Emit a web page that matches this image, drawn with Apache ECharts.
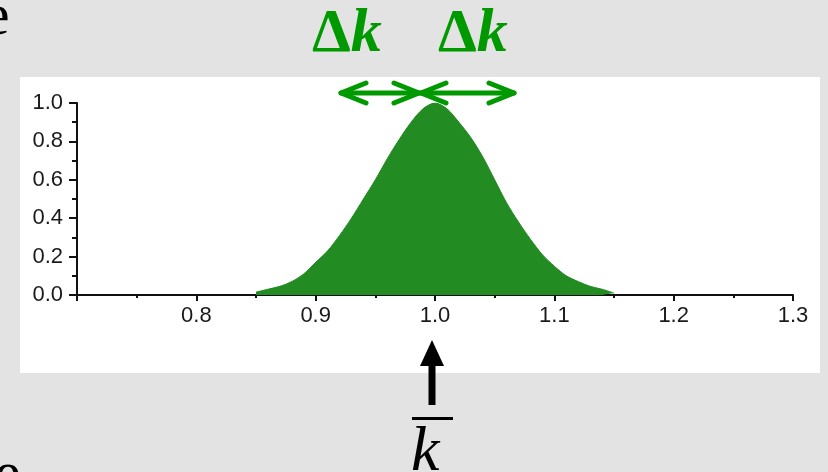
<!DOCTYPE html>
<html>
<head>
<meta charset="utf-8">
<script src="https://cdn.jsdelivr.net/npm/echarts@6/dist/echarts.min.js"></script>
<style>
  html, body { margin: 0; padding: 0; background: #e3e3e3; }
  #chart { width: 828px; height: 472px; }
</style>
</head>
<body>
<div id="chart"></div>
<script>
// k values (x) and normalised distribution height (y)
const kValues = [0.85, 0.86, 0.87, 0.88, 0.89, 0.90, 0.91, 0.92, 0.93, 0.94, 0.95,
  0.96, 0.97, 0.98, 0.99, 1.00, 1.01, 1.02, 1.03, 1.04, 1.05, 1.06, 1.07, 1.08,
  1.09, 1.10, 1.11, 1.12, 1.13, 1.14, 1.15]
const density = [0.015, 0.03, 0.045, 0.07, 0.11, 0.17, 0.23, 0.31, 0.40, 0.50, 0.60,
  0.71, 0.81, 0.90, 0.97, 1.00, 0.97, 0.90, 0.82, 0.72, 0.60, 0.48, 0.38, 0.29,
  0.21, 0.15, 0.10, 0.07, 0.045, 0.03, 0.01]
const xTicks = [0.7, 1.3, 0.1]   // min, max, step
const yTicks = [0, 1, 0.2]

const green = '#009a00'
const fill = '#228b22'
const labelFont = { color: '#1a1a1a', fontSize: 22, fontFamily: 'Liberation Sans' }

const chart = echarts.init(document.getElementById('chart'))

function chevron(x, y, dir) {
  return {
    type: 'polyline',
    shape: { points: [[x - dir * 25, y - 10], [x, y], [x - dir * 25, y + 10]] },
    style: { stroke: green, lineWidth: 5, lineCap: 'round', lineJoin: 'round', fill: null },
    z: 50
  }
}

chart.setOption({
  backgroundColor: 'transparent',
  animation: false,
  grid: { left: 77, right: 35, top: 103, bottom: 177 },
  xAxis: {
    type: 'value',
    min: xTicks[0], max: xTicks[1], interval: xTicks[2],
    axisLine: { onZero: false, lineStyle: { color: '#111', width: 2 } },
    axisTick: { length: 6, lineStyle: { color: '#111', width: 2 } },
    minorTick: { show: true, splitNumber: 2, length: 3, lineStyle: { color: '#111', width: 2 } },
    splitLine: { show: false },
    axisLabel: Object.assign({ margin: 10, showMinLabel: false,
      formatter: v => v.toFixed(1) }, labelFont)
  },
  yAxis: {
    type: 'value',
    min: yTicks[0], max: yTicks[1], interval: yTicks[2],
    axisLine: { show: true, lineStyle: { color: '#111', width: 2 } },
    axisTick: { show: true, length: 8, lineStyle: { color: '#111', width: 2 } },
    minorTick: { show: true, splitNumber: 2, length: 5, lineStyle: { color: '#111', width: 2 } },
    splitLine: { show: false },
    axisLabel: Object.assign({ margin: 14, formatter: v => v.toFixed(1) }, labelFont)
  },
  series: [{
    type: 'line',
    data: kValues.map((k, i) => [k, density[i]]),
    smooth: 0.3,
    symbol: 'none',
    lineStyle: { color: fill, width: 1 },
    areaStyle: { color: fill, opacity: 1 },
    z: 1
  }],
  graphic: [
    // white panel behind the plot
    { type: 'rect', shape: { x: 20, y: 77, width: 800, height: 296 },
      style: { fill: '#ffffff' }, z: -100, silent: true },
    // cut-off slide text on the left
    { type: 'text', left: -17, top: -12,
      style: { text: 'e', font: '60px "Liberation Serif"', fill: '#000' } },
    { type: 'text', left: -6, top: 446,
      style: { text: 'e', font: '60px "Liberation Serif"', fill: '#000' } },
    // delta k labels
    { type: 'text', left: 312, top: 4,
      style: { rich: { d: { font: 'bold 62px "Liberation Serif"', fill: green },
                       k: { font: 'italic bold 62px "Liberation Serif"', fill: green } },
               text: '{d|Δ}{k|k}' } },
    { type: 'text', left: 438, top: 4,
      style: { rich: { d: { font: 'bold 62px "Liberation Serif"', fill: green },
                       k: { font: 'italic bold 62px "Liberation Serif"', fill: green } },
               text: '{d|Δ}{k|k}' } },
    // double arrows
    { type: 'line', shape: { x1: 341, y1: 93, x2: 514, y2: 93 },
      style: { stroke: green, lineWidth: 5, lineCap: 'round' }, z: 50 },
    chevron(341, 93, -1), chevron(419, 93, 1), chevron(421, 93, -1), chevron(514, 93, 1),
    // mean marker arrow
    { type: 'polygon', shape: { points: [[420, 366], [432, 340], [444, 366]] },
      style: { fill: '#000' }, z: 50 },
    { type: 'rect', shape: { x: 428.5, y: 362, width: 7, height: 43 },
      style: { fill: '#000' }, z: 50 },
    { type: 'rect', shape: { x: 412, y: 417, width: 41, height: 3 },
      style: { fill: '#000' }, z: 50 },
    { type: 'text', left: 411, top: 421,
      style: { text: 'k', font: 'italic 64px "Liberation Serif"', fill: '#000' } }
  ]
})
</script>
</body>
</html>
